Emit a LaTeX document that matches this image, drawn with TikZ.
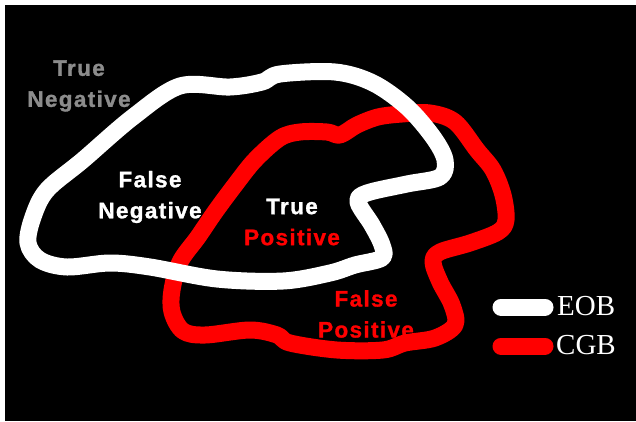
\documentclass[tikz,border=0pt]{standalone}
\usepackage{fontspec}
\setmainfont{Liberation Serif}
\newfontfamily\lblfont[LetterSpace=6,FakeBold=1.2]{Liberation Sans}
\usepackage{xcolor}
\usepackage{tikz}
\usetikzlibrary{positioning}
\definecolor{tngray}{RGB}{140,140,140}
\definecolor{cgbred}{RGB}{255,0,0}

\begin{document}
\begin{tikzpicture}[
      x=1pt, y=-1pt,
      blob/.style ={line width=17pt, line join=round,
                    smooth cycle, tension=0.55},
      key/.style  ={line width=17pt, line cap=round},
      lbl/.style  ={font=\lblfont\bfseries\fontsize{22.5}{31}\selectfont,
                    align=center, inner sep=0pt},
      leg/.style  ={font=\fontsize{29}{32}\selectfont, text=white,
                    anchor=base west, inner sep=0pt}
    ]
    % --- frame ---
    \useasboundingbox (0,0) rectangle (636,421);
    \fill[black] (5,5) rectangle (636,421);
    % --- CGB outline (red, below) ---
    \draw[blob, cgbred] plot coordinates {
      (183,331) (172,312) (172,290) (180,262) (198,237) (215,212)
      (235,185) (255,160) (280,138) (300,132) (327,132) (340,135)
      (357,125) (378,117) (402,114) (430,113) (455,122) (477,150)
      (493,170) (503,195) (506,220) (498,232) (470,243) (440,252)
      (433,262) (440,282) (452,305) (455,325) (435,338) (405,343)
      (383,350) (337,350) (290,343) (277,335) (250,330) (205,335)};
    % --- EOB outline (white, on top) ---
    \draw[blob, white] plot coordinates {
      (180,86) (230,87) (262,82) (280,74) (335,72) (373,83)
      (407,107) (433,137) (445,160) (440,177) (407,184) (367,193)
      (358,202) (372,225) (382,245) (382,258) (355,265) (330,273)
      (283,281) (217,279) (150,267) (110,263) (67,267) (40,260)
      (28,243) (33,217) (47,190) (83,160) (133,117)};
    % --- region labels ---
    \node[lbl, text=tngray] (tn) at (79,86) {True\\Negative};
    \node[lbl, text=white]  (fn) at (150,197) {False\\Negative};
    \node[lbl, text=white]  (tp) at (292,222)
      {True\\\textcolor{cgbred}{Positive}};
    \node[lbl, text=cgbred] (fp) at (366,314) {False\\Positive};
    % --- legend ---
    \coordinate (eobL) at (501,307);
    \coordinate (eobR) at (545,307);
    \coordinate (cgbL) at (501,346);
    \coordinate (cgbR) at (545,346);
    \draw[key, white]  (eobL) -- (eobR);
    \draw[key, cgbred] (cgbL) -- (cgbR);
    \node[leg] (eob) at (557,315) {EOB};
    \node[leg] (cgb) at (556,354) {CGB};
  \end{tikzpicture}
\end{document}
